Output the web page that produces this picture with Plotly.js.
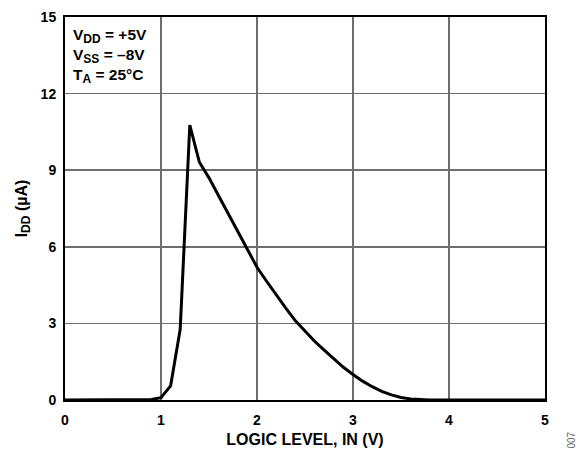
<!DOCTYPE html>
<html>
<head>
<meta charset="utf-8">
<script src="https://cdn.plot.ly/plotly-3.0.1.min.js"></script>
<style>html,body{margin:0;padding:0;background:#fff;}#chart{width:587px;height:452px;}</style>
</head>
<body>
<div id="chart"></div>
<script>
const logicLevel = [0, 0.5, 0.9, 1.0, 1.1, 1.2, 1.3, 1.4, 1.5, 1.6, 1.7, 1.8, 1.9, 2.0, 2.1, 2.2, 2.3, 2.4, 2.5, 2.6, 2.7, 2.8, 2.9, 3.0, 3.1, 3.2, 3.3, 3.4, 3.5, 3.6, 3.7, 3.8, 4.0, 4.5, 5.0];
const iddMicroAmp = [0, 0, 0.02, 0.09, 0.55, 2.77, 10.77, 9.31, 8.7, 8.0, 7.3, 6.6, 5.9, 5.2, 4.65, 4.1, 3.6, 3.1, 2.7, 2.3, 1.95, 1.6, 1.28, 1.0, 0.74, 0.52, 0.34, 0.2, 0.1, 0.04, 0.01, 0, 0, 0, 0];
const xTicks = [0, 1, 2, 3, 4, 5];
const yTicks = [0, 3, 6, 9, 12, 15];
const sub = s => '<sub><span style="font-size:12px">' + s + '</span></sub>';
const conditions = ["V" + sub("DD") + " = +5V", "V" + sub("SS") + " = \u20138V", "T" + sub("A") + " = 25\u00b0C"];

const fontFam = '"Liberation Sans", Arial, Helvetica, sans-serif';
const trace = {
  x: logicLevel, y: iddMicroAmp, type: 'scatter', mode: 'lines',
  line: {color: '#000', width: 3}, cliponaxis: false, hoverinfo: 'skip'
};
const annotations = conditions.map((t, i) => ({
  text: t, xref: 'paper', yref: 'paper', x: 0.012, y: 0.981 - i * 0.0522,
  xanchor: 'left', yanchor: 'top', showarrow: false,
  font: {family: fontFam, size: 15.5, color: '#000', weight: 'bold'}
}));
annotations.push({
  text: '007', xref: 'paper', yref: 'paper', x: 1.055, y: -0.105,
  xanchor: 'center', yanchor: 'middle', showarrow: false, textangle: -90,
  font: {family: fontFam, size: 10, color: '#666'}
});
const axisCommon = {
  showline: true, linecolor: '#000', linewidth: 2, mirror: true,
  showgrid: true, gridcolor: '#6e6e6e', gridwidth: 1.5, zeroline: false,
  ticks: 'outside', ticklen: 6, tickcolor: 'rgba(0,0,0,0)',
  tickfont: {family: fontFam, size: 14, color: '#000', weight: 'bold'}
};
const layout = {
  width: 587, height: 452,
  margin: {l: 65, r: 42, t: 17, b: 52},
  paper_bgcolor: '#fff', plot_bgcolor: '#fff',
  showlegend: false,
  xaxis: Object.assign({}, axisCommon, {
    range: [0, 5], tickvals: xTicks, ticktext: xTicks.map(String),
    title: {text: 'LOGIC LEVEL, IN (V)', standoff: 7, font: {family: fontFam, size: 16, color: '#000', weight: 'bold'}}
  }),
  yaxis: Object.assign({}, axisCommon, {
    range: [0, 15], tickvals: yTicks, ticktext: yTicks.map(String), ticklen: 4,
    title: {text: 'I' + sub('DD') + ' (\u00b5A)', standoff: 9, font: {family: fontFam, size: 16, color: '#000', weight: 'bold'}}
  }),
  annotations: annotations
};
Plotly.newPlot('chart', [trace], layout, {staticPlot: true, displayModeBar: false});
</script>
</body>
</html>
